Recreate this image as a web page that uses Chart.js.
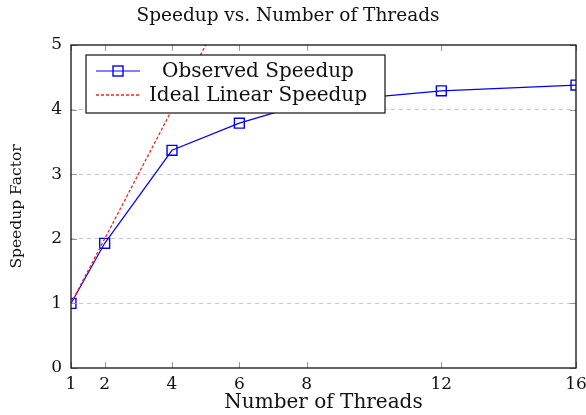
<!DOCTYPE html>
<html>
<head>
<meta charset="utf-8">
<script src="https://cdn.jsdelivr.net/npm/chart.js@4.4.1/dist/chart.umd.min.js"></script>
<style>
  html, body { margin: 0; padding: 0; background: #fff; }
  #wrap { width: 586px; height: 415px; }
</style>
</head>
<body>
<div id="wrap"><canvas id="speedup"></canvas></div>
<script>
const threads = [1, 2, 4, 6, 8, 12, 16];
const observed = [1.0, 1.93, 3.37, 3.79, 4.1, 4.29, 4.38];
const ideal = [1, 2, 4, 6, 8, 12, 16];
const xTicks = [1, 2, 4, 6, 8, 12, 16];
const yTicks = [0, 1, 2, 3, 4, 5];

const serif = "'DejaVu Serif', serif";

// pgfplots like frame, inner ticks and the boxed legend
const framePlugin = {
  id: "frame",
  afterDraw(chart) {
    const ctx = chart.ctx;
    const a = chart.chartArea;
    const xs = chart.scales.x;
    const ys = chart.scales.y;
    ctx.save();
    ctx.strokeStyle = "#999";
    ctx.lineWidth = 1;
    ctx.beginPath();
    xTicks.forEach((t) => {
      const px = Math.round(xs.getPixelForValue(t)) + 0.5;
      ctx.moveTo(px, a.bottom); ctx.lineTo(px, a.bottom - 6);
      ctx.moveTo(px, a.top); ctx.lineTo(px, a.top + 6);
    });
    yTicks.forEach((t) => {
      const py = Math.round(ys.getPixelForValue(t)) + 0.5;
      ctx.moveTo(a.left, py); ctx.lineTo(a.left + 6, py);
      ctx.moveTo(a.right, py); ctx.lineTo(a.right - 6, py);
    });
    ctx.stroke();

    ctx.strokeStyle = "#111";
    ctx.lineWidth = 1.3;
    ctx.strokeRect(a.left, a.top, a.right - a.left, a.bottom - a.top);

    // legend box
    const bx = 86, by = 55, bw = 299, bh = 58;
    ctx.fillStyle = "#fff";
    ctx.fillRect(bx, by, bw, bh);
    ctx.strokeStyle = "#111";
    ctx.lineWidth = 1.2;
    ctx.strokeRect(bx, by, bw, bh);

    const rows = [71, 95];
    ctx.font = "20px " + serif;
    ctx.textAlign = "center";
    ctx.textBaseline = "middle";
    chart.data.datasets.forEach((ds, i) => {
      const y = rows[i];
      ctx.save();
      ctx.strokeStyle = ds.borderColor;
      ctx.lineWidth = ds.borderWidth;
      ctx.setLineDash(ds.borderDash || []);
      ctx.beginPath();
      ctx.moveTo(96, y); ctx.lineTo(140, y);
      ctx.stroke();
      ctx.setLineDash([]);
      if (ds.pointRadius > 0) {
        ctx.lineWidth = 1.4;
        ctx.strokeRect(113, y - 5, 10, 10);
      }
      ctx.restore();
      ctx.fillStyle = "#111";
      ctx.fillText(ds.label, 258, y + 1);
    });
    ctx.restore();
  },
};

const ctx = document.getElementById("speedup").getContext("2d");
const myChart = new Chart(ctx, {
  type: "line",
  data: {
    labels: threads,
    datasets: [
      {
        label: "Observed Speedup",
        data: threads.map((t, i) => ({ x: t, y: observed[i] })),
        borderColor: "#0000ff",
        borderWidth: 1.2,
        pointStyle: "rect",
        pointRadius: 7,
        pointBorderColor: "#0000ff",
        pointBackgroundColor: "rgba(0,0,0,0)",
        pointBorderWidth: 1.4,
        tension: 0,
        order: 1,
      },
      {
        label: "Ideal Linear Speedup",
        data: threads.map((t, i) => ({ x: t, y: ideal[i] })),
        borderColor: "#ff2020",
        borderWidth: 1.3,
        borderDash: [3, 2],
        pointRadius: 0,
        tension: 0,
        order: 0,
      },
    ],
  },
  options: {
    responsive: true,
    maintainAspectRatio: false,
    animation: false,
    layout: { padding: { left: 0, right: 10, top: 0, bottom: 0 } },
    plugins: {
      legend: { display: false },
      tooltip: { enabled: false },
      title: {
        display: true,
        text: "Speedup vs. Number of Threads",
        color: "#111",
        font: { family: serif, size: 18.5, weight: "normal", lineHeight: 1.2 },
        padding: { top: 5, bottom: 17.8 },
      },
    },
    scales: {
      x: {
        type: "linear",
        min: 1,
        max: 16,
        afterBuildTicks: (scale) => {
          scale.ticks = xTicks.map((v) => ({ value: v }));
        },
        afterFit: (scale) => {
          scale.height = 47;
          scale.paddingLeft = 0;
          scale.paddingRight = 0;
        },
        grid: { display: false, drawTicks: false },
        border: { display: false },
        ticks: {
          color: "#111",
          font: { family: serif, size: 17 },
          padding: 6,
          maxRotation: 0,
          autoSkip: false,
        },
        title: {
          display: true,
          text: "Number of Threads",
          color: "#111",
          font: { family: serif, size: 20, lineHeight: 1.2 },
          padding: { top: 0, bottom: 0 },
        },
      },
      y: {
        min: 0,
        max: 5,
        afterBuildTicks: (scale) => {
          scale.ticks = yTicks.map((v) => ({ value: v }));
        },
        afterFit: (scale) => { scale.width = 71; },
        grid: {
          drawTicks: false,
          color: (c) => (c.tick && (c.tick.value === 0 || c.tick.value === 5) ? "rgba(0,0,0,0)" : "#c8c8c8"),
          lineWidth: 1,
        },
        border: { display: false, dash: [4, 4] },
        ticks: {
          color: "#111",
          font: { family: serif, size: 17 },
          padding: 9,
        },
        title: {
          display: true,
          text: "Speedup Factor",
          color: "#111",
          font: { family: serif, size: 15.5, lineHeight: 1.2 },
          padding: { top: 8, bottom: 0 },
        },
      },
    },
  },
  plugins: [framePlugin],
});
</script>
</body>
</html>
